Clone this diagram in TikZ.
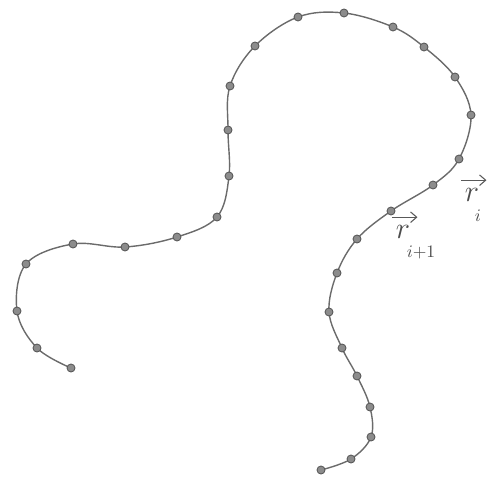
\documentclass[tikz,border=0pt]{standalone}
\usepackage{amsmath}
\usetikzlibrary{arrows.meta}
\begin{document}
\begin{tikzpicture}[x=0.02cm, y=-0.02cm,
  chain/.style={draw=black!58, line width=0.8pt},
  bead/.style={circle, fill=black!45, draw=black!65, line width=0.5pt, inner sep=0pt, minimum size=0.16cm},
  lbl/.style={text=black!70, font=\LARGE, inner sep=0pt},
  sub/.style={text=black!70, inner sep=0pt},
  vecarrow/.style={draw=black!65, line width=0.6pt, -{Straight Barb[length=3.5pt, width=6pt]}}]
\useasboundingbox (0,0) rectangle (494,483);
\foreach \x/\y [count=\n] in {71/368, 37/348, 17/311, 26/264, 73/244, 125/247,
  177/237, 217/217, 229/176, 228/130, 230/86, 255/46, 298/17, 344/13, 393/27,
  424/47, 455/77, 471/115, 459/159, 433/185, 391/211, 357/239, 337/273,
  329/312, 342/348, 357/376, 370/407, 371/437, 351/459, 321/470}
  \coordinate (p\n) at (\x,\y);
\draw[chain] plot[smooth, tension=0.6] coordinates {(p1) (p2) (p3) (p4) (p5)
  (p6) (p7) (p8) (p9) (p10) (p11) (p12) (p13) (p14) (p15) (p16) (p17) (p18)
  (p19) (p20) (p21) (p22) (p23) (p24) (p25) (p26) (p27) (p28) (p29) (p30)};
\foreach \n in {1,...,30}
  \node[bead] (b\n) at (p\n) {};
% labels r_i and r_{i+1}
\node[lbl] (ri) at (472,195) {$r$};
\node[sub] (risub) at (478,216) {$i$};
\draw[vecarrow] ([xshift=-2pt, yshift=4.5pt]ri.north west) -- ([xshift=4pt, yshift=4.5pt]ri.north east);
\node[lbl] (rnext) at (403,232) {$r$};
\node[sub] (rnextsub) at (421,252) {$i{+}1$};
\draw[vecarrow] ([xshift=-2pt, yshift=4.5pt]rnext.north west) -- ([xshift=4pt, yshift=4.5pt]rnext.north east);
\end{tikzpicture}
\end{document}
